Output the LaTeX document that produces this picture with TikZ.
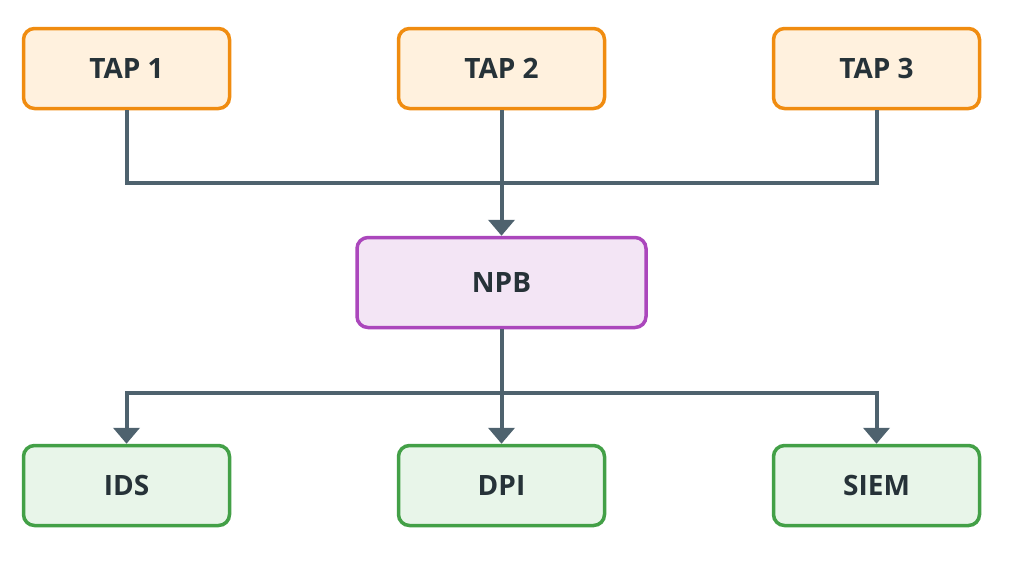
\documentclass[tikz,border=0pt]{standalone}
\usepackage{fontspec}
\setmainfont{Open Sans}
\usetikzlibrary{arrows.meta}
\definecolor{lineC}{HTML}{4E626E}
\definecolor{txt}{HTML}{263238}
\definecolor{orB}{HTML}{F08C10}
\definecolor{orF}{HTML}{FFF1DE}
\definecolor{puB}{HTML}{AB47BC}
\definecolor{puF}{HTML}{F3E5F5}
\definecolor{grB}{HTML}{43A047}
\definecolor{grF}{HTML}{E8F5E9}
\tikzset{
  box/.style={draw, line width=3.5pt, rounded corners=11pt, minimum width=206pt, minimum height=80pt,
    inner sep=0pt, text=txt, font=\fontsize{28}{30}\selectfont\bfseries},
  tapbox/.style={box, draw=orB, fill=orF},
  npbbox/.style={box, draw=puB, fill=puF, minimum width=289pt, minimum height=90pt},
  toolbox/.style={box, draw=grB, fill=grF},
  conn/.style={draw=lineC, line width=4pt},
  arr/.style={conn, -{Triangle[width=26pt,length=16pt]}},
}
\begin{document}
\begin{tikzpicture}[x=1pt,y=-1pt]
\useasboundingbox (0,0) rectangle (1024,566);
\node[tapbox] (t1) at (126.5,68.5) {TAP 1};
\node[tapbox] (t2) at (501.5,68.5) {TAP 2};
\node[tapbox] (t3) at (876.5,68.5) {TAP 3};
\node[npbbox] (npb) at (501.5,282.5) {NPB};
\node[toolbox] (ids) at (126.5,485.5) {IDS};
\node[toolbox] (dpi) at (501.5,485.5) {DPI};
\node[toolbox] (siem) at (876.5,485.5) {SIEM};
\coordinate (j1) at (501.5,183);
\coordinate (j2) at (501.5,393);
\draw[conn] (t1.south) |- (j1) -| (t3.south);
\draw[arr] (t2.south) -- (npb.north);
\draw[arr] (npb.south) -- (dpi.north);
\draw[arr] (j2) -| (ids.north);
\draw[arr] (j2) -| (siem.north);
\end{tikzpicture}
\end{document}
